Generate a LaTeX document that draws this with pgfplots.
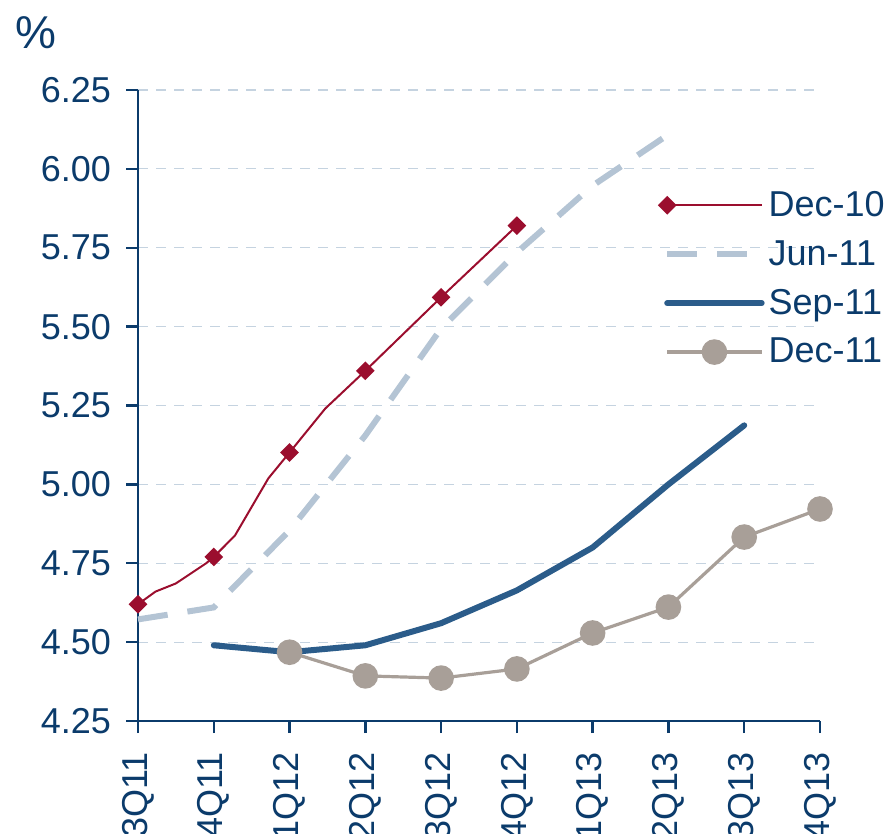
\documentclass[border=0pt]{standalone}
\usepackage{pgfplots}
\pgfplotsset{compat=1.18}
\usepackage{fontspec}
\setmainfont{Liberation Sans}
\definecolor{navy}{HTML}{0B3B6B}
\definecolor{decten}{HTML}{9B0E2E}
\definecolor{junel}{HTML}{B4C4D4}
\definecolor{sepel}{HTML}{2B5C8A}
\definecolor{decel}{HTML}{A89F98}
\definecolor{gridc}{HTML}{C5D3E0}
\begin{document}
\begin{tikzpicture}
\begin{axis}[
  scale only axis,
  width=341pt, height=315.5pt,
  xmin=0, xmax=9, ymin=4.25, ymax=6.25,
  axis lines*=left,
  axis line style={navy, line width=1.2pt},
  tick style={navy, line width=1.2pt},
  tick align=outside,
  major tick length=6pt,
  xtick={0,...,9},
  xticklabels={3Q11,4Q11,1Q12,2Q12,3Q12,4Q12,1Q13,2Q13,3Q13,4Q13},
  ytick={4.25,4.5,...,6.25},
  /pgf/number format/assume math mode=true,
  ticklabel style={font=\fontsize{18}{21}\selectfont, text=navy},
  yticklabel style={xshift=-4pt, /pgf/number format/.cd, fixed, fixed zerofill, precision=2},
  xticklabel style={rotate=90, anchor=east, xshift=-6pt},
  ymajorgrids,
  grid style={gridc, dash pattern=on 5pt off 4pt, line width=0.6pt},
  clip=false,
  legend style={draw=none, fill=none, at={(rel axis cs:0.755,0.853)}, anchor=north west,
    font=\fontsize{18}{21}\selectfont, text=navy, row sep=6.5pt,
    /tikz/every even column/.append style={column sep=0pt}},
  legend cell align=left,
  legend image code/.code={\draw[mark repeat=2, mark phase=2, #1] plot coordinates {(0cm,0cm) (0.83cm,0cm) (1.66cm,0cm)};},
]
\coordinate (sw) at (rel axis cs:0,0);
\addplot[decten, line width=1pt, mark=square*, mark size=2.8pt, mark options={rotate=45}, mark indices={1,5,8,10,11,12}] coordinates {
(0,4.62) (0.23,4.66) (0.5,4.686) (0.9,4.75) (1,4.77) (1.28,4.838) (1.72,5.019) (2,5.101) (2.47,5.24) (3,5.36) (4,5.593) (5,5.82)};
\addlegendentry{Dec-10}
\addplot[junel, line width=3pt, dash pattern=on 15pt off 10pt] coordinates {
(0,4.572) (1,4.61) (2,4.854) (3,5.155) (4,5.494) (5,5.735) (6,5.947) (7,6.109)};
\addlegendentry{Jun-11}
\addplot[sepel, line width=3pt, line cap=round, line join=round] coordinates {
(1,4.49) (2,4.468) (3,4.49) (4,4.56) (5,4.664) (6,4.80) (7,5.00) (8,5.187)};
\addlegendentry{Sep-11}
\addplot[decel, line width=1.6pt, mark=*, mark size=5.6pt, mark options={fill=decel, draw=decel}] coordinates {
(2,4.468) (3,4.393) (4,4.386) (5,4.415) (6,4.529) (7,4.611) (8,4.833) (9,4.922)};
\addlegendentry{Dec-11}
\end{axis}
\node[anchor=center, text=navy, font=\fontsize{23}{26}\selectfont] at ([shift={(-51pt,344pt)}]sw) {\%};
\pgfresetboundingbox
\path ([shift={(-69pt,-56pt)}]sw) rectangle ++(443pt,416.5pt);
\end{tikzpicture}
\end{document}
